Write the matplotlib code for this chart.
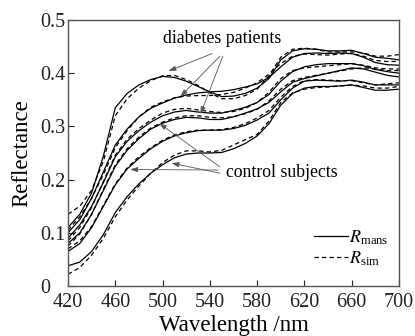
import matplotlib
matplotlib.use("Agg")
import matplotlib.pyplot as plt

plt.rcParams['font.family'] = ['Liberation Serif', 'DejaVu Serif']
plt.rcParams['mathtext.fontset'] = 'stix'

wavelength = [420, 430, 440, 450, 460, 470, 480, 490, 500, 510, 520, 530, 540, 550,
              560, 570, 580, 590, 600, 610, 620, 630, 640, 650, 660, 670, 680, 690, 700]

# measured (solid) spectra
d1_mans = [0.110, 0.135, 0.175, 0.245, 0.335, 0.362, 0.378, 0.388, 0.394, 0.392, 0.385, 0.375, 0.365, 0.356,
           0.357, 0.362, 0.372, 0.390, 0.425, 0.442, 0.446, 0.445, 0.442, 0.442, 0.443, 0.437, 0.430, 0.428, 0.425]
d2_mans = [0.100, 0.125, 0.165, 0.215, 0.265, 0.295, 0.318, 0.334, 0.344, 0.353, 0.359, 0.363, 0.365, 0.366,
           0.369, 0.374, 0.380, 0.392, 0.412, 0.430, 0.437, 0.438, 0.437, 0.438, 0.437, 0.430, 0.420, 0.416, 0.415]
d3_mans = [0.090, 0.115, 0.150, 0.195, 0.243, 0.272, 0.292, 0.308, 0.320, 0.327, 0.330, 0.327, 0.325, 0.325,
           0.330, 0.336, 0.345, 0.360, 0.385, 0.403, 0.412, 0.416, 0.418, 0.418, 0.418, 0.414, 0.407, 0.403, 0.400]
c1_mans = [0.080, 0.100, 0.135, 0.180, 0.225, 0.255, 0.277, 0.295, 0.306, 0.313, 0.317, 0.316, 0.313, 0.313,
           0.318, 0.325, 0.333, 0.345, 0.365, 0.383, 0.390, 0.395, 0.400, 0.405, 0.410, 0.408, 0.402, 0.396, 0.393]
c2_mans = [0.065, 0.080, 0.110, 0.150, 0.190, 0.220, 0.240, 0.258, 0.272, 0.282, 0.288, 0.292, 0.293, 0.293,
           0.296, 0.302, 0.312, 0.325, 0.350, 0.372, 0.385, 0.387, 0.386, 0.385, 0.387, 0.383, 0.378, 0.378, 0.378]
c3_mans = [0.038, 0.045, 0.065, 0.097, 0.138, 0.168, 0.192, 0.212, 0.228, 0.241, 0.248, 0.250, 0.250, 0.251,
           0.258, 0.268, 0.282, 0.305, 0.340, 0.362, 0.372, 0.375, 0.375, 0.376, 0.378, 0.373, 0.368, 0.368, 0.370]

# simulated (dashed) spectra
d1_sim = [0.135, 0.150, 0.180, 0.235, 0.320, 0.352, 0.372, 0.386, 0.395, 0.396, 0.388, 0.377, 0.363, 0.352,
          0.352, 0.358, 0.370, 0.395, 0.430, 0.445, 0.447, 0.445, 0.440, 0.440, 0.440, 0.438, 0.432, 0.432, 0.435]
d2_sim = [0.105, 0.130, 0.165, 0.210, 0.260, 0.292, 0.318, 0.336, 0.346, 0.354, 0.357, 0.358, 0.358, 0.360,
          0.364, 0.372, 0.382, 0.398, 0.418, 0.432, 0.436, 0.435, 0.434, 0.436, 0.437, 0.432, 0.424, 0.422, 0.422]
d3_sim = [0.085, 0.110, 0.148, 0.197, 0.246, 0.276, 0.296, 0.312, 0.325, 0.332, 0.334, 0.331, 0.328, 0.326,
          0.328, 0.334, 0.345, 0.364, 0.390, 0.405, 0.410, 0.412, 0.414, 0.416, 0.418, 0.415, 0.410, 0.408, 0.408]
c1_sim = [0.075, 0.098, 0.135, 0.182, 0.228, 0.258, 0.280, 0.297, 0.308, 0.316, 0.320, 0.320, 0.317, 0.316,
          0.318, 0.324, 0.332, 0.348, 0.370, 0.386, 0.392, 0.396, 0.400, 0.404, 0.408, 0.410, 0.408, 0.405, 0.405]
c2_sim = [0.070, 0.085, 0.112, 0.152, 0.192, 0.222, 0.243, 0.260, 0.274, 0.284, 0.290, 0.293, 0.293, 0.294,
          0.298, 0.305, 0.316, 0.330, 0.355, 0.375, 0.386, 0.388, 0.387, 0.386, 0.386, 0.382, 0.378, 0.380, 0.382]
c3_sim = [0.022, 0.035, 0.058, 0.090, 0.130, 0.162, 0.188, 0.212, 0.232, 0.246, 0.254, 0.254, 0.252, 0.255,
          0.265, 0.275, 0.285, 0.310, 0.345, 0.363, 0.370, 0.373, 0.374, 0.376, 0.378, 0.376, 0.372, 0.372, 0.375]

mans_series = [d1_mans, d2_mans, d3_mans, c1_mans, c2_mans, c3_mans]
sim_series = [d1_sim, d2_sim, d3_sim, c1_sim, c2_sim, c3_sim]

x_ticks = [420, 460, 500, 540, 580, 620, 660, 700]
y_ticks = [0, 0.1, 0.2, 0.3, 0.4, 0.5]
y_tick_labels = ['0', '0.1', '0.2', '0.3', '0.4', '0.5']

# annotation points (data coords)
diab_text_pos = (550, 0.465)
diab_heads = [(505, 0.404), (515, 0.356), (532, 0.323)]
diab_tails = [(542, 0.437), (548.5, 0.432), (551, 0.432)]
ctrl_text_pos = (554, 0.213)
ctrl_heads = [(497, 0.306), (472.5, 0.219), (507.5, 0.231)]
ctrl_tails = [(548.5, 0.224), (547, 0.218), (548.5, 0.212)]

fig = plt.figure(figsize=(4.15, 3.36), dpi=100)
ax = fig.add_axes([0.1639, 0.1488, 0.7975, 0.7917])

for i, (m, s) in enumerate(zip(mans_series, sim_series)):
    ax.plot(wavelength, m, color='black', lw=0.9, ls='-',
            label=r'$R_{\mathregular{mans}}$' if i == 0 else None)
    ax.plot(wavelength, s, color='black', lw=0.9, ls=(0, (3.5, 2.5)),
            label=r'$R_{\mathregular{sim}}$' if i == 0 else None)

arrow_kw = dict(arrowstyle='-|>,head_length=0.45,head_width=0.15', color='#555555', lw=0.6,
                shrinkA=0, shrinkB=0)
for h, t in zip(diab_heads, diab_tails):
    ax.annotate('', xy=h, xytext=t, arrowprops=arrow_kw)
for h, t in zip(ctrl_heads, ctrl_tails):
    ax.annotate('', xy=h, xytext=t, arrowprops=arrow_kw)
ax.text(diab_text_pos[0], diab_text_pos[1], 'diabetes patients', fontsize=12.8,
        ha='center', va='center')
ax.text(ctrl_text_pos[0], ctrl_text_pos[1], 'control subjects', fontsize=12.8,
        ha='left', va='center')

ax.set_xlim(420, 700)
ax.set_ylim(0, 0.5)
ax.set_xticks(x_ticks)
ax.set_yticks(y_ticks)
ax.set_yticklabels(y_tick_labels)
ax.tick_params(direction='in', length=4, width=0.8, labelsize=14.5, colors='#222222')
ax.tick_params(axis='x', pad=5)
ax.tick_params(axis='y', pad=20)
for lbl in ax.get_yticklabels():
    lbl.set_horizontalalignment('left')
for sp in ax.spines.values():
    sp.set_color('#555555')
    sp.set_linewidth(1.0)

ax.set_xlabel('Wavelength /nm', fontsize=16.5)
ax.xaxis.set_label_coords(0.5, -0.108)
ax.set_ylabel('Reflectance', fontsize=16.5, va='center')
ax.yaxis.set_label_coords(-0.14, 0.5)

leg = ax.legend(loc='lower right', bbox_to_anchor=(1.0, 0.027), frameon=False,
                fontsize=13, handlelength=1.9, handletextpad=0.05, labelspacing=0.15,
                borderaxespad=0.2)

fig.savefig('out.png', dpi=100)
